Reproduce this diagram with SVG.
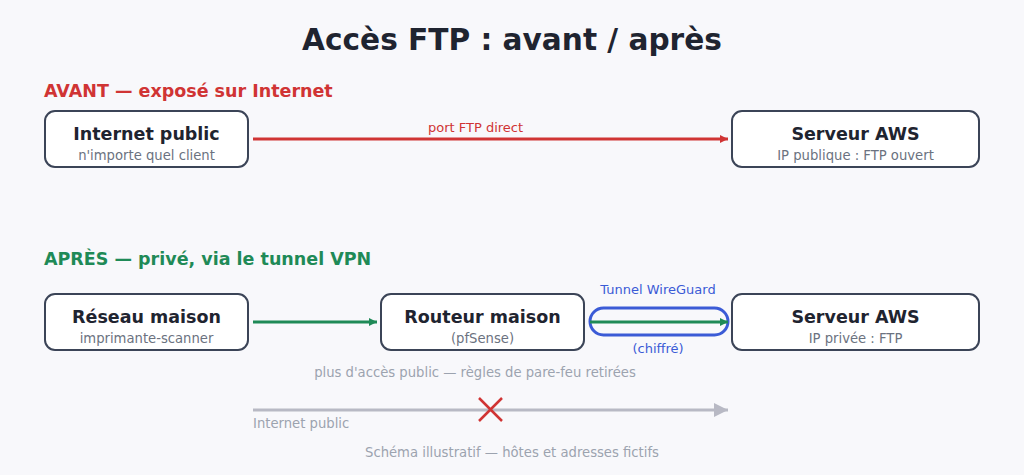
<svg xmlns="http://www.w3.org/2000/svg" width="1024" height="475" viewBox="0 0 1024 475">
<defs>
<style>
text{font-family:"DejaVu Sans","Liberation Sans",sans-serif}
.title{font-size:29.6px;font-weight:bold;fill:#1f2430;text-anchor:middle}
.sec{font-size:17.5px;font-weight:bold}
.box{fill:#ffffff;stroke:#3b4457;stroke-width:2}
.name{font-size:17.5px;font-weight:bold;fill:#1f2430;text-anchor:middle}
.sub{font-size:13.2px;fill:#6b7280;text-anchor:middle}
.lbl{font-size:13px;text-anchor:middle}
.note{font-size:13.2px;fill:#9ca3af}
</style>
<marker id="ar" viewBox="0 0 10 10" refX="10" refY="5" markerWidth="10" markerHeight="8" markerUnits="userSpaceOnUse" orient="auto"><path d="M0,0 L10,5 L0,10 z" fill="#d03434"/></marker>
<marker id="ag" viewBox="0 0 10 10" refX="10" refY="5" markerWidth="10" markerHeight="8" markerUnits="userSpaceOnUse" orient="auto"><path d="M0,0 L10,5 L0,10 z" fill="#1f8a57"/></marker>
<marker id="ay" viewBox="0 0 10 10" refX="10" refY="5" markerWidth="16" markerHeight="14" markerUnits="userSpaceOnUse" orient="auto"><path d="M0,0 L10,5 L0,10 z" fill="#b8b9c4"/></marker>
</defs>
<rect width="1024" height="475" fill="#f8f8fb"/>
<text class="title" x="512" y="50">Accès FTP : avant / après</text>
<text class="sec" x="44" y="97" fill="#d03434">AVANT — exposé sur Internet</text>
<text class="sec" x="44" y="265" fill="#1f8a57">APRÈS — privé, via le tunnel VPN</text>

<g id="internet">
<rect class="box" x="45" y="111" width="203" height="56" rx="10"/>
<text class="name" x="146.5" y="140">Internet public</text>
<text class="sub" x="146.5" y="160">n'importe quel client</text>
</g>
<g id="aws-before">
<rect class="box" x="732" y="111" width="247" height="56" rx="10"/>
<text class="name" x="855.5" y="140">Serveur AWS</text>
<text class="sub" x="855.5" y="160">IP publique : FTP ouvert</text>
</g>
<g id="reseau">
<rect class="box" x="45" y="294" width="203" height="56" rx="10"/>
<text class="name" x="146.5" y="323">Réseau maison</text>
<text class="sub" x="146.5" y="343">imprimante-scanner</text>
</g>
<g id="routeur">
<rect class="box" x="381" y="294" width="203" height="56" rx="10"/>
<text class="name" x="482.5" y="323">Routeur maison</text>
<text class="sub" x="482.5" y="343">(pfSense)</text>
</g>
<g id="aws-after">
<rect class="box" x="732" y="294" width="247" height="56" rx="10"/>
<text class="name" x="855.5" y="323">Serveur AWS</text>
<text class="sub" x="855.5" y="343">IP privée : FTP</text>
</g>
<g id="tunnel">
<rect x="590" y="308" width="138" height="27" rx="13.5" fill="none" stroke="#3b5bd6" stroke-width="3"/>
<text class="lbl" x="658" y="294" fill="#3b5bd6">Tunnel WireGuard</text>
<text class="lbl" x="658" y="353" fill="#3b5bd6">(chiffré)</text>
</g>

<g id="connectors">
<line x1="253" y1="139" x2="728" y2="139" stroke="#d03434" stroke-width="3" marker-end="url(#ar)"/>
<text class="lbl" x="475.5" y="132" fill="#d03434">port FTP direct</text>
<line x1="253" y1="322" x2="377" y2="322" stroke="#1f8a57" stroke-width="3" marker-end="url(#ag)"/>
<line x1="590" y1="322" x2="728" y2="322" stroke="#1f8a57" stroke-width="3" marker-end="url(#ag)"/>
<line x1="253" y1="410" x2="728" y2="410" stroke="#b8b9c4" stroke-width="3" marker-end="url(#ay)"/>
<path d="M479,398 L502,421 M502,398 L479,421" stroke="#d03434" stroke-width="2.5" fill="none"/>
</g>

<text class="note" x="475" y="377" text-anchor="middle">plus d'accès public — règles de pare-feu retirées</text>
<text class="note" x="253" y="428">Internet public</text>
<text class="note" x="512" y="457" text-anchor="middle">Schéma illustratif — hôtes et adresses fictifs</text>
</svg>
